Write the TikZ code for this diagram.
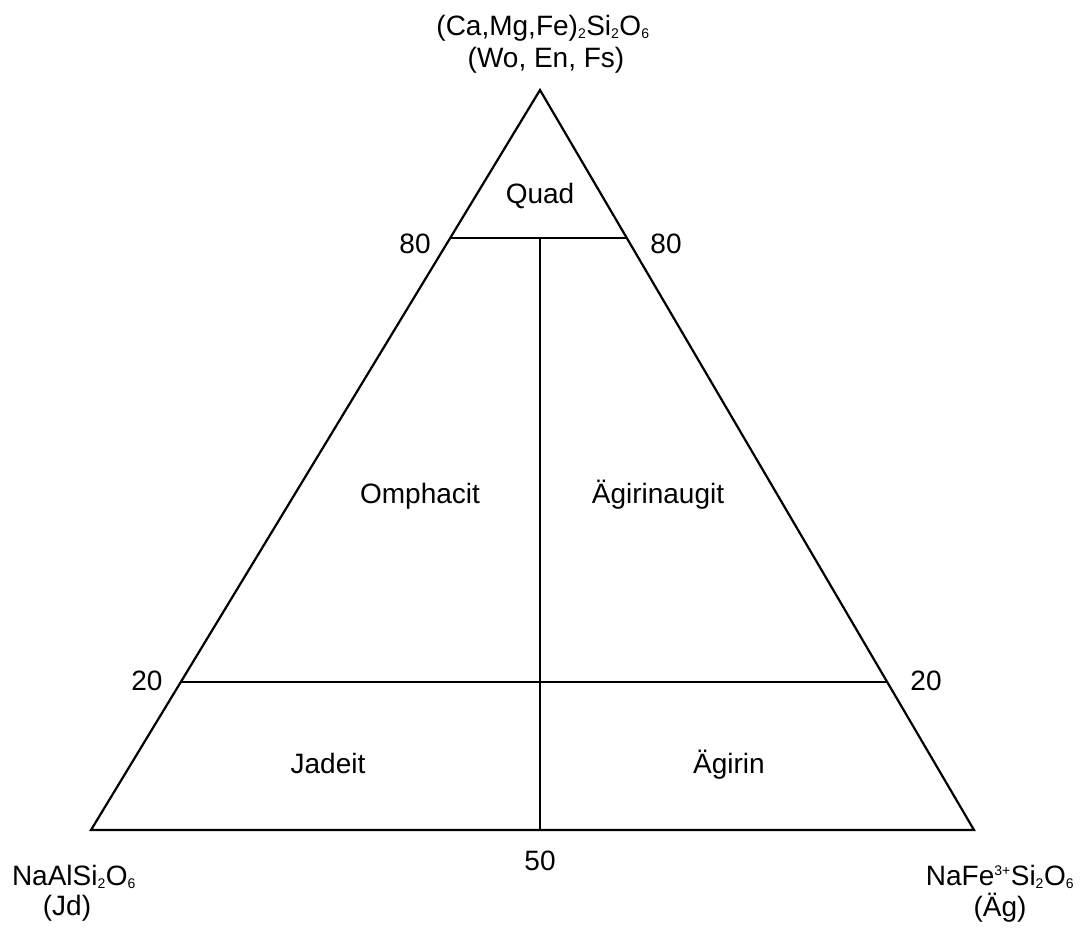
\documentclass[tikz,border=0pt]{standalone}
\usepackage{fontspec}
\setmainfont{Liberation Sans}
\usetikzlibrary{calc}
\newcommand{\sbs}[1]{\textsubscript{\fontsize{14}{15}\selectfont #1}}
\newcommand{\sps}[1]{\textsuperscript{\fontsize{14}{15}\selectfont #1}}
\begin{document}
\begin{tikzpicture}[x=1pt,y=-1pt,
  lbl/.style={font=\fontsize{28}{33}\selectfont, inner sep=0pt, anchor=base},
  edge/.style={line width=2.2pt, line join=miter}]
\useasboundingbox (0,0) rectangle (1082,927);
\coordinate (T) at (540,90);
\coordinate (L) at (91,830);
\coordinate (R) at (974,830);
\coordinate (L80) at ($(L)!0.8!(T)$);
\coordinate (R80) at ($(R)!0.8!(T)$);
\coordinate (L20) at ($(L)!0.2!(T)$);
\coordinate (R20) at ($(R)!0.2!(T)$);
\coordinate (M80) at (540,238);
\coordinate (B50) at (540,830);
\draw[edge] (T) -- (L) -- (R) -- cycle;
\draw[edge] (L80) -- (R80);
\draw[edge] (L20) -- (R20);
\draw[edge] (M80) -- (B50);
\node[lbl] (quad) at (540,203) {Quad};
\node[lbl] (omph) at (420,503) {Omphacit};
\node[lbl] (aeaug) at (658,503) {Ägirinaugit};
\node[lbl] (jad) at (328,773) {Jadeit};
\node[lbl] (aeg) at (729,773) {Ägirin};
\node[lbl] (l80) at (415,253) {80};
\node[lbl] (r80) at (666,253) {80};
\node[lbl] (l20) at (147,690) {20};
\node[lbl] (r20) at (926,690) {20};
\node[lbl] (b50) at (540,870) {50};
\node[lbl] (top1) at (543,35) {(Ca,Mg,Fe)\sbs{2}Si\sbs{2}O\sbs{6}};
\node[lbl] (top2) at (546,67) {(Wo, En, Fs)};
\node[lbl] (jd1) at (74,885) {NaAlSi\sbs{2}O\sbs{6}};
\node[lbl] (jd2) at (67,915) {(Jd)};
\node[lbl] (ag1) at (1000,885) {NaFe\sps{3+}Si\sbs{2}O\sbs{6}};
\node[lbl] (ag2) at (1000,916) {(Äg)};
\end{tikzpicture}
\end{document}
